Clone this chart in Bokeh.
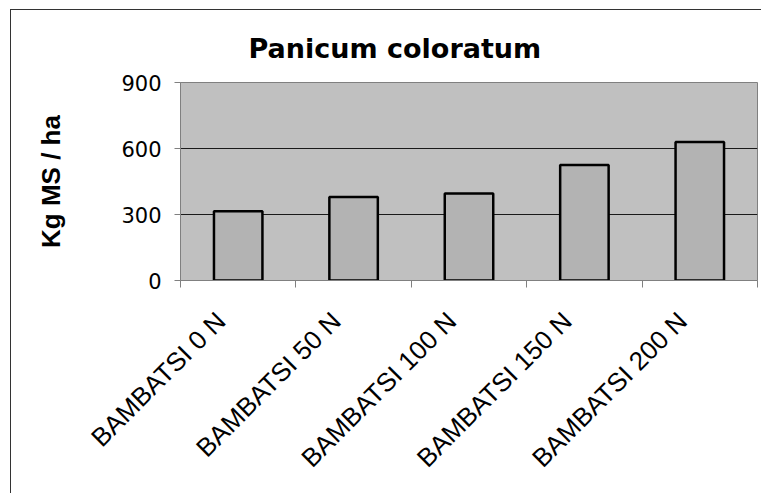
import numpy as np
from bokeh.plotting import figure
from bokeh.models import (ColumnDataSource, FixedTicker, Range1d, LinearAxis,
                          CustomJSTickFormatter)
from bokeh.embed import file_html
from bokeh.resources import INLINE

# Dry matter yield of Panicum coloratum cv. Bambatsi under nitrogen rates
categories = ["BAMBATSI 0 N", "BAMBATSI 50 N", "BAMBATSI 100 N",
              "BAMBATSI 150 N", "BAMBATSI 200 N"]
yield_kg = [315, 380, 395, 525, 630]
y_ticks = [0, 300, 600, 900]
y_grid = [300, 600]

n = len(categories)
centers = np.arange(n) + 0.5
src = ColumnDataSource(dict(x=centers, top=yield_kg))

p = figure(width=761, height=493, output_backend="svg", toolbar_location=None,
           x_range=Range1d(0, n), y_range=Range1d(y_ticks[0], y_ticks[-1]),
           min_border_left=180, min_border_right=4,
           min_border_top=82, min_border_bottom=213,
           title="Panicum coloratum")

# outer chart-area frame (left and top edges visible)
p.border_fill_color = None
p.styles = {
    "background": "linear-gradient(#333,#333) 10px 9px / 1px 100% no-repeat, "
                  "linear-gradient(#333,#333) 10px 9px / 100% 1px no-repeat, #ffffff"
}

p.background_fill_color = "#C0C0C0"
p.outline_line_color = "#808080"
p.outline_line_width = 1

p.vbar(x="x", top="top", width=0.42, bottom=0, source=src,
       fill_color="#B3B3B3", line_color="black", line_width=2.5)

# grid
p.xgrid.visible = False
p.ygrid.ticker = FixedTicker(ticks=y_grid)
p.ygrid.grid_line_color = "#1a1a1a"
p.ygrid.grid_line_width = 1

# y axis
p.yaxis.ticker = FixedTicker(ticks=y_ticks)
p.yaxis.axis_line_color = "#808080"
p.yaxis.major_tick_line_color = "#808080"
p.yaxis.major_tick_out = 6
p.yaxis.major_tick_in = 0
p.yaxis.minor_tick_line_color = None
p.yaxis.major_label_text_font = "DejaVu Sans"
p.yaxis.major_label_text_font_size = "21px"
p.yaxis.major_label_text_color = "black"
p.yaxis.major_label_standoff = 13
p.yaxis.axis_label = "Kg MS / ha"
p.yaxis.axis_label_text_font = "Liberation Sans"
p.yaxis.axis_label_text_font_size = "26px"
p.yaxis.axis_label_text_font_style = "bold"
p.yaxis.axis_label_text_color = "black"
p.yaxis.axis_label_standoff = 52

# x axis: tick marks at category boundaries only
p.xaxis.ticker = FixedTicker(ticks=list(range(n + 1)))
p.xaxis.formatter = CustomJSTickFormatter(code="return ''")
p.xaxis.major_label_text_font_size = "0px"
p.xaxis.major_label_standoff = 0
p.xaxis.axis_line_color = "#808080"
p.xaxis.major_tick_line_color = "#808080"
p.xaxis.major_tick_out = 7
p.xaxis.major_tick_in = 0
p.xaxis.minor_tick_line_color = None

# second axis below carrying the slanted category names
label_shift = 0.15
label_axis = LinearAxis(
    ticker=FixedTicker(ticks=[float(c - label_shift) for c in centers]),
    formatter=CustomJSTickFormatter(args=dict(names=categories),
                                    code="return names[index]"),
    axis_line_color=None, major_tick_line_color=None,
    minor_tick_line_color=None, major_tick_out=0, major_tick_in=0,
    major_label_orientation=np.pi / 4, major_label_standoff=29,
    major_label_text_font="Liberation Sans",
    major_label_text_font_size="26px", major_label_text_color="black")
p.add_layout(label_axis, "below")

# title
p.title.text_font = "DejaVu Sans"
p.title.text_font_size = "27px"
p.title.text_font_style = "bold"
p.title.text_color = "black"
p.title.align = "left"
p.title.offset = 68
p.title.standoff = 37

open("out.html", "w").write(file_html(p, INLINE))
